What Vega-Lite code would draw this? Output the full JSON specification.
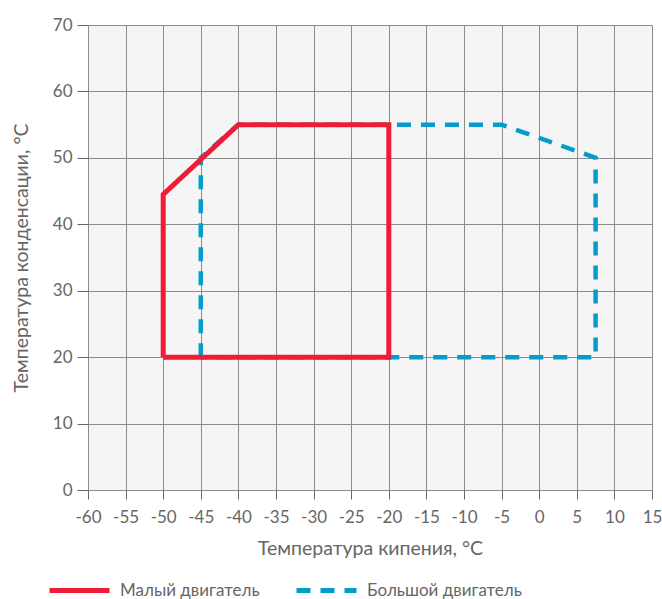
{
  "$schema": "https://vega.github.io/schema/vega-lite/v6.json",
  "width": 564,
  "height": 465,
  "autosize": {"type": "none"},
  "padding": {"left": 88, "top": 25, "right": 10, "bottom": 109},
  "background": "white",
  "config": {
    "font": "Lato",
    "view": {"fill": "#f5f5f5", "stroke": null},
    "axis": {
      "gridColor": "#8c8c8c",
      "gridOpacity": 1,
      "gridWidth": 1,
      "domain": false,
      "tickColor": "#666666",
      "tickWidth": 1,
      "labelColor": "#666666",
      "labelFontSize": 17,
      "titleColor": "#666666",
      "titleFontSize": 19.5,
      "titleFontWeight": "normal"
    }
  },
  "data": {
    "values": [
      {"s": "Малый двигатель", "o": 1, "x": -50, "y": 20},
      {"s": "Малый двигатель", "o": 2, "x": -50, "y": 44.5},
      {"s": "Малый двигатель", "o": 3, "x": -40, "y": 55},
      {"s": "Малый двигатель", "o": 4, "x": -20, "y": 55},
      {"s": "Малый двигатель", "o": 5, "x": -20, "y": 20},
      {"s": "Малый двигатель", "o": 6, "x": -50, "y": 20},
      {"s": "Большой двигатель", "o": 1, "x": -45, "y": 20},
      {"s": "Большой двигатель", "o": 2, "x": -45, "y": 50},
      {"s": "Большой двигатель", "o": 3, "x": -40, "y": 55},
      {"s": "Большой двигатель", "o": 4, "x": -5, "y": 55},
      {"s": "Большой двигатель", "o": 5, "x": 7.5, "y": 50},
      {"s": "Большой двигатель", "o": 6, "x": 7.5, "y": 20},
      {"s": "Большой двигатель", "o": 7, "x": -45, "y": 20}
    ]
  },
  "encoding": {
    "x": {
      "field": "x", "type": "quantitative",
      "scale": {"domain": [-60, 15], "nice": false, "zero": false},
      "axis": {"values": [-60,-55,-50,-45,-40,-35,-30,-25,-20,-15,-10,-5,0,5,10,15], "labelExpr": "replace(datum.label, '−', '-')", "tickSize": 9, "labelPadding": 10, "title": "Температура кипения, °C", "titlePadding": 14, "labelFlush": false}
    },
    "y": {
      "field": "y", "type": "quantitative",
      "scale": {"domain": [0, 70], "nice": false},
      "axis": {"values": [0,10,20,30,40,50,60,70], "tickSize": 11, "labelPadding": 5, "title": "Температура конденсации, °C", "titlePadding": 21}
    },
    "order": {"field": "o", "type": "quantitative"},
    "color": {
      "field": "s", "type": "nominal",
      "scale": {"domain": ["Малый двигатель", "Большой двигатель"], "range": ["#ee1c35", "#049ccb"]},
      "legend": {
        "title": null, "orient": "none", "legendX": -41, "legendY": 533,
        "direction": "horizontal", "symbolType": "stroke", "symbolSize": 3600,
        "symbolStrokeWidth": 5, "labelFontSize": 17, "labelColor": "#666666",
        "labelBaseline": "middle", "gridAlign": "none",
        "labelOffset": 8, "columnPadding": 26
      }
    },
    "strokeDash": {
      "field": "s", "type": "nominal",
      "scale": {"domain": ["Малый двигатель", "Большой двигатель"], "range": [[1, 0], [14, 10]]},
      "legend": null
    }
  },
  "layer": [
    {
      "transform": [{"filter": "datum.s === 'Большой двигатель'"}],
      "mark": {"type": "line", "strokeWidth": 4.5, "strokeJoin": "miter", "strokeCap": "butt"}
    },
    {
      "transform": [{"filter": "datum.s === 'Малый двигатель'"}],
      "mark": {"type": "line", "strokeWidth": 5, "strokeJoin": "miter", "strokeCap": "butt"}
    }
  ]
}
